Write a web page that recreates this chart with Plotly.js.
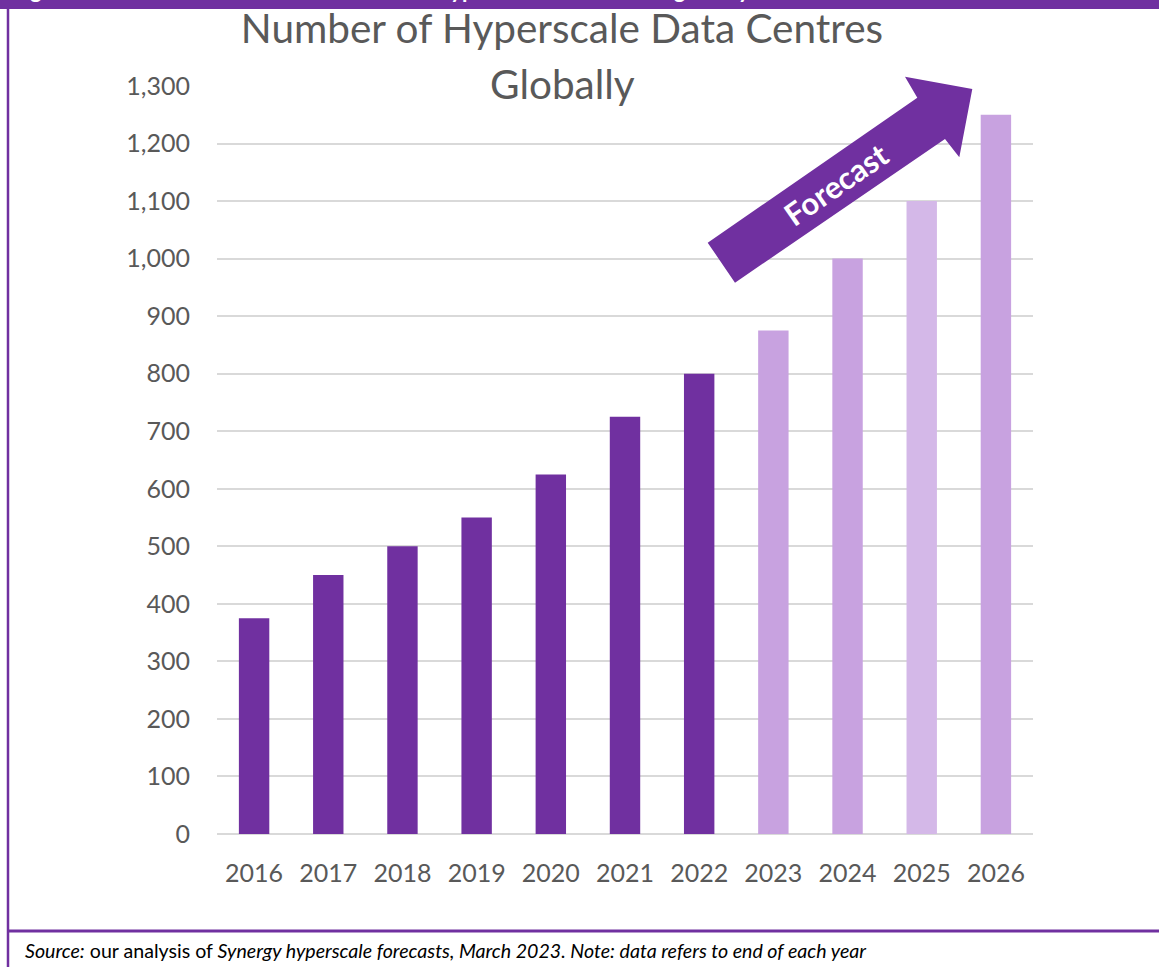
<!DOCTYPE html>
<html>
<head>
<meta charset="utf-8">
<script src="https://cdn.plot.ly/plotly-3.0.1.min.js"></script>
<style>
html,body{margin:0;padding:0;background:#fff;}
#chart{width:1159px;height:967px;}
</style>
</head>
<body>
<div id="chart"></div>
<script>
const years = ["2016","2017","2018","2019","2020","2021","2022","2023","2024","2025","2026"];
const dataCentres = [375, 450, 500, 550, 625, 725, 800, 875, 1000, 1100, 1250];
const barColors = ["#7030A0","#7030A0","#7030A0","#7030A0","#7030A0","#7030A0","#7030A0","#C8A2E0","#C8A2E0","#D4B8E8","#C8A2E0"];
const yTicks = [0,100,200,300,400,500,600,700,800,900,1000,1100,1200,1300];
const yTickLabels = ["0","100","200","300","400","500","600","700","800","900","1,000","1,100","1,200","1,300"];

const W = 1159, H = 967;
const L = 217, R = 1033, T = 86, B = 834;
const px = X => (X - L) / (R - L);
const py = Y => (B - Y) / (B - T);
const P = (X, Y) => px(X).toFixed(5) + "," + py(Y).toFixed(5);

const purple = "#7030A0";
const grey = "#595959";

const arrowPath = "M" + P(707.7,242.7) + " L" + P(917.3,97.7) + " L" + P(905,76.7) +
  " L" + P(972.3,89) + " L" + P(959.3,157.3) + " L" + P(945,139) + " L" + P(735,282.7) + " Z";

const trace = {
  type: "bar",
  x: years,
  y: dataCentres,
  marker: {color: barColors, line: {width: 0}},
  hoverinfo: "x+y"
};

const layout = {
  width: W, height: H,
  margin: {l: L, r: W - R, t: T, b: H - B, pad: 0},
  paper_bgcolor: "#ffffff",
  plot_bgcolor: "#ffffff",
  showlegend: false,
  bargap: 0.59,
  font: {family: "Lato, 'Open Sans', sans-serif", color: grey},
  title: {
    text: "Number of Hyperscale Data Centres",
    font: {family: "Lato, sans-serif", size: 40.5, color: grey},
    xref: "container", x: 562 / W, xanchor: "center",
    yref: "container", y: 1 - 29 / H, yanchor: "middle"
  },
  xaxis: {
    type: "category",
    tickfont: {family: "Lato, sans-serif", size: 25, color: grey},
    ticks: "", showgrid: false, zeroline: false, showline: false,
    ticklabelstandoff: 22,
    fixedrange: true
  },
  yaxis: {
    range: [0, 1300],
    tickvals: yTicks, ticktext: yTickLabels,
    tickfont: {family: "Lato, sans-serif", size: 25, color: grey},
    ticks: "", showline: false,
    showgrid: true, gridcolor: "#D9D9D9", gridwidth: 2,
    zeroline: true, zerolinecolor: "#D9D9D9", zerolinewidth: 2,
    ticklabelstandoff: 26,
    fixedrange: true
  },
  shapes: [
    {type: "rect", xref: "paper", yref: "paper", x0: px(-5), x1: px(W + 5), y0: py(9), y1: py(-5), fillcolor: purple, line: {width: 0}, layer: "above"},
    {type: "line", xref: "paper", yref: "paper", x0: px(8), x1: px(8), y0: py(8), y1: py(H + 5), line: {color: purple, width: 2.5}, layer: "above"},
    {type: "line", xref: "paper", yref: "paper", x0: px(8), x1: px(W + 5), y0: py(931), y1: py(931), line: {color: purple, width: 3}, layer: "above"},
    {type: "path", xref: "paper", yref: "paper", path: arrowPath, fillcolor: purple, line: {width: 0}, layer: "above"}
  ],
  annotations: [
    {xref: "paper", yref: "paper", x: px(562), y: py(84), text: "Globally", showarrow: false,
     font: {family: "Lato, sans-serif", size: 40.5, color: grey}, xanchor: "center", yanchor: "middle"},
    {xref: "paper", yref: "paper", x: px(836), y: py(184), text: "<b>Forecast</b>", showarrow: false,
     textangle: -34.7, font: {family: "Lato, sans-serif", size: 31, color: "#ffffff"}, xanchor: "center", yanchor: "middle"},
    {xref: "paper", yref: "paper", x: px(10), y: py(-10), text: "<b>Figure 3: Estimated and forecast number of hyperscale data centres globally</b>", showarrow: false,
     font: {family: "Lato, sans-serif", size: 22, color: "#ffffff"}, xanchor: "left", yanchor: "middle"},
    {xref: "paper", yref: "paper", x: px(23), y: py(950), showarrow: false, xanchor: "left", yanchor: "middle",
     text: "<i>Source:</i> our analysis of <i>Synergy hyperscale forecasts, March 2023. Note: data refers to end of each year</i>",
     font: {family: "Lato, 'Open Sans', sans-serif", size: 19.6, color: "#000000"}}
  ]
};

Plotly.newPlot("chart", [trace], layout, {displayModeBar: false, staticPlot: true});
</script>
</body>
</html>
